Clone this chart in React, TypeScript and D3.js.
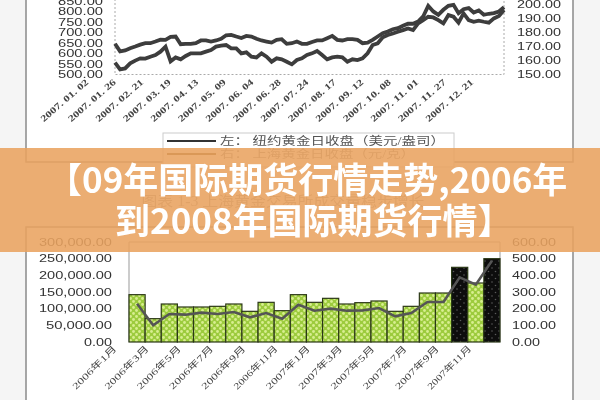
import { useEffect, useRef } from "react";
import * as d3 from "d3";

const nyClose = [
  647, 611, 615, 626, 634, 643, 650, 650, 658, 667, 666, 680, 682, 645, 647, 647, 650, 663, 663, 658, 663, 671, 688, 690, 682, 675,
  685, 682, 671, 663, 658, 653, 666, 669, 647, 650, 658, 647, 647, 656, 663, 663, 674, 685, 666, 663, 669, 669, 666, 650, 653, 666,
  682, 698, 706, 717, 722, 733, 743, 743, 754, 778, 829, 802, 786, 810, 829, 834, 794, 813, 818, 797, 807, 786, 791, 794, 802, 823,
];
const shClose = [
  158.5, 153.7, 154.4, 158, 160, 161.6, 161.4, 162.8, 164, 166.4, 170, 159.5, 162.3, 160.9, 163.3, 165.2, 165.2, 165.2, 166.4, 167.6, 170, 170.7, 171.2, 168.8, 168.8, 165.2,
  165.9, 162.8, 162.3, 165.2, 162.8, 159.2, 161.6, 160.9, 159.2, 157.3, 160.4, 161.6, 164, 165.2, 166.9, 164, 160.9, 162.3, 162.8, 162.3, 159.2, 160.9, 160.4, 161.6, 165.2, 171.2,
  172.4, 176.7, 178.4, 179.5, 180.7, 181.9, 183.1, 181.9, 186.7, 189.1, 191.5, 191, 189.1, 186.7, 192.7, 191.5, 187.2, 193.9, 189.1, 187.9, 188.7, 187.9, 187.2, 190.3, 192, 196.3,
];
const dateLabels = [
  "2007. 01. 02", "2007. 01. 26", "2007. 02. 21", "2007. 03. 19", "2007. 04. 13", "2007. 05. 09", "2007. 06. 04", "2007. 06. 28",
  "2007. 07. 24", "2007. 08. 17", "2007. 09. 12", "2007. 10. 08", "2007. 11. 01", "2007. 11. 27", "2007. 12. 21",
];
const legendLabels = ["左： 纽约黄金日收盘（美元/盎司）", "右： 上海黄金日收盘（元/克）"];

const months = [
  "2006年1月", "2006年2月", "2006年3月", "2006年4月", "2006年5月", "2006年6月", "2006年7月", "2006年8月", "2006年9月", "2006年10月", "2006年11月", "2006年12月",
  "2007年1月", "2007年2月", "2007年3月", "2007年4月", "2007年5月", "2007年6月", "2007年7月", "2007年8月", "2007年9月", "2007年10月", "2007年11月",
];
const volume = [142000, 70000, 114000, 105000, 105000, 107000, 114000, 92000, 119000, 94000, 142000, 119000, 131000, 114000, 118000, 123000, 92000, 107000, 147000, 147000, 224000, 177000, 250000];
const turnover = [230, 100, 168, 164, 176, 168, 180, 148, 174, 140, 224, 188, 200, 188, 190, 204, 154, 174, 240, 240, 388, 344, 488];
const blackBars = ["2007年9月", "2007年11月"];

const titleLines = ["【09年国际期货行情走势,2006年", "到2008年国际期货行情】"];
const caption = "图表 1-3 上海黄金交易所成交量稳步增长";

const SANS = "'Liberation Sans', Arial, sans-serif";
const SERIF = "'Liberation Serif', 'Noto Sans CJK SC', serif";

export default function App() {
  const ref = useRef<SVGSVGElement | null>(null);

  useEffect(() => {
    if (!ref.current) return;
    const svg = d3.select(ref.current);
    svg.selectAll("*").remove();

    const defs = svg.append("defs");
    defs.append("filter").attr("id", "soft").append("feGaussianBlur").attr("stdDeviation", 0.65);
    defs.append("filter").attr("id", "softer").append("feGaussianBlur").attr("stdDeviation", 0.3);

    const green = defs.append("pattern").attr("id", "green-check").attr("patternUnits", "userSpaceOnUse").attr("width", 6).attr("height", 6);
    green.append("rect").attr("width", 6).attr("height", 6).attr("fill", "#9ccb3c");
    green.append("circle").attr("cx", 1.5).attr("cy", 1.5).attr("r", 1.4).attr("fill", "#d8ee90");
    green.append("circle").attr("cx", 4.5).attr("cy", 4.5).attr("r", 1.4).attr("fill", "#d8ee90");

    const dots = defs.append("pattern").attr("id", "black-dots").attr("patternUnits", "userSpaceOnUse").attr("width", 7).attr("height", 7);
    dots.append("rect").attr("width", 7).attr("height", 7).attr("fill", "#0a0a0a");
    dots.append("circle").attr("cx", 2).attr("cy", 2).attr("r", 0.8).attr("fill", "#5a5a5a");
    dots.append("circle").attr("cx", 5.5).attr("cy", 5.5).attr("r", 0.8).attr("fill", "#5a5a5a");

    // page + the two white panels
    svg.append("rect").attr("width", 600).attr("height", 400).attr("fill", "#f5f5f5");
    const chart = svg.append("g").attr("filter", "url(#soft)");
    chart.append("rect").attr("x", 26).attr("y", -10).attr("width", 547).attr("height", 172)
      .attr("fill", "#fff").attr("stroke", "#8a8a8a").attr("stroke-width", 1.5);
    chart.append("rect").attr("x", 26).attr("y", 227).attr("width", 547).attr("height", 190)
      .attr("fill", "#fff").attr("stroke", "#8a8a8a").attr("stroke-width", 1.5);

    // ---------- upper chart ----------
    const x1 = d3.scalePoint<number>().domain(d3.range(nyClose.length)).range([115, 504]);
    const yNy = d3.scaleLinear().domain([500, 900]).range([74.5, -9]);
    const ySh = d3.scaleLinear().domain([150, 210]).range([74.5, -9]);

    chart.append("path")
      .attr("d", "M115,-9V74.5H504V-9")
      .attr("fill", "none").attr("stroke", "#aaa").attr("stroke-width", 1).attr("stroke-dasharray", "2 2");

    const lineNy = d3.line<number>().x((_, i) => x1(i)!).y((d) => yNy(d));
    const lineSh = d3.line<number>().x((_, i) => x1(i)!).y((d) => ySh(d));
    chart.append("path").attr("d", lineNy(nyClose)!).attr("fill", "none").attr("stroke", "#3c3c3c").attr("stroke-width", 3.8);
    chart.append("path").attr("d", lineSh(shClose)!).attr("fill", "none").attr("stroke", "#3c3c3c").attr("stroke-width", 3.8);

    chart.append("g").selectAll("text").data(yNy.ticks(8).filter((d) => d < 900)).join("text")
      .attr("x", 103).attr("y", (d) => yNy(d)).attr("dy", "0.35em").attr("text-anchor", "end")
      .attr("font-family", SANS).attr("font-size", 10).attr("fill", "#333")
      .attr("textLength", 45).attr("lengthAdjust", "spacingAndGlyphs")
      .text((d) => d3.format(".2f")(d));

    chart.append("g").selectAll("text").data(ySh.ticks(6).filter((d) => d < 210)).join("text")
      .attr("x", 517).attr("y", (d) => ySh(d)).attr("dy", "0.35em")
      .attr("font-family", SANS).attr("font-size", 10).attr("fill", "#333")
      .attr("textLength", 44).attr("lengthAdjust", "spacingAndGlyphs")
      .text((d) => d3.format(".2f")(d));

    const xDate = d3.scalePoint<string>().domain(dateLabels).range([89, 474]);
    chart.append("g").selectAll("text").data(dateLabels).join("text")
      .attr("transform", (d) => `translate(${xDate(d)},83) rotate(-41)`)
      .attr("text-anchor", "end")
      .attr("font-family", SERIF).attr("font-size", 9).attr("font-weight", "bold").attr("fill", "#444")
      .attr("textLength", 60).attr("lengthAdjust", "spacingAndGlyphs")
      .text((d) => d);

    chart.append("rect").attr("x", 163).attr("y", 133).attr("width", 291).attr("height", 34)
      .attr("fill", "#fff").attr("stroke", "#ccc");
    const legendY = d3.scalePoint<string>().domain(legendLabels).range([141, 154]);
    const legendWidth = [225, 195];
    legendLabels.forEach((label, i) => {
      const y = legendY(label)!;
      chart.append("line").attr("x1", 167).attr("x2", 216).attr("y1", y).attr("y2", y)
        .attr("stroke", i === 0 ? "#333" : "#6b4a1c").attr("stroke-width", 2);
      chart.append("text").attr("x", 220).attr("y", y + 4).attr("font-family", SERIF).attr("font-size", 11.5)
        .attr("fill", i === 0 ? "#555" : "#888").attr("textLength", legendWidth[i]).attr("lengthAdjust", "spacingAndGlyphs").text(label);
    });

    chart.append("text").attr("x", 283).attr("y", 206).attr("text-anchor", "middle")
      .attr("font-family", SERIF).attr("font-size", 14).attr("fill", "#999")
      .attr("textLength", 283).attr("lengthAdjust", "spacingAndGlyphs").text(caption);

    // ---------- lower chart ----------
    const x2 = d3.scaleBand<string>().domain(months).range([129, 500]).padding(0);
    const yVol = d3.scaleLinear().domain([0, 300000]).range([342, 242]);
    const yTurn = d3.scaleLinear().domain([0, 600]).range([342, 242]);

    chart.append("path").attr("d", "M129,342V242H500V342").attr("fill", "none").attr("stroke", "#999").attr("stroke-width", 1);

    chart.append("g").selectAll("rect").data(months).join("rect")
      .attr("x", (d) => x2(d)!).attr("width", x2.bandwidth())
      .attr("y", (_, i) => yVol(volume[i])).attr("height", (_, i) => 342 - yVol(volume[i]))
      .attr("fill", (d) => (blackBars.includes(d) ? "url(#black-dots)" : "url(#green-check)"))
      .attr("stroke", "#2c3818").attr("stroke-width", 1.2);

    const lineTurn = d3.line<number>().x((_, i) => x2(months[i])! + x2.bandwidth() / 2).y((d) => yTurn(d));
    chart.append("path").attr("d", lineTurn(turnover)!).attr("fill", "none").attr("stroke", "#555").attr("stroke-width", 2.6);

    chart.append("g").selectAll("text").data(yVol.ticks(6)).join("text")
      .attr("x", 112).attr("y", (d) => yVol(d)).attr("dy", "0.35em").attr("text-anchor", "end")
      .attr("font-family", SANS).attr("font-size", 10).attr("fill", "#333")
      .attr("textLength", (d) => (d === 0 ? 28 : d < 100000 ? 66 : 73)).attr("lengthAdjust", "spacingAndGlyphs")
      .text((d) => d3.format(",.2f")(d));

    chart.append("g").selectAll("text").data(yTurn.ticks(6)).join("text")
      .attr("x", 512).attr("y", (d) => yTurn(d)).attr("dy", "0.35em")
      .attr("font-family", SANS).attr("font-size", 10).attr("fill", "#333")
      .attr("textLength", (d) => (d === 0 ? 28 : 44)).attr("lengthAdjust", "spacingAndGlyphs")
      .text((d) => d3.format(".2f")(d));

    chart.append("g").selectAll("text").data(months.filter((_, i) => i % 2 === 0)).join("text")
      .attr("transform", (d) => `translate(${x2(d)! + x2.bandwidth() / 2 - 20},349) rotate(-45)`)
      .attr("text-anchor", "end")
      .attr("font-family", SERIF).attr("font-size", 9).attr("fill", "#444")
      .attr("textLength", (d) => (d.length > 8 ? 62 : 58)).attr("lengthAdjust", "spacingAndGlyphs")
      .text((d) => d);

    // ---------- title banner ----------
    svg.append("rect").attr("x", 0).attr("y", 148).attr("width", 600).attr("height", 104)
      .attr("fill", "#e9a360").attr("fill-opacity", 0.88);
    const banner = svg.append("g").attr("filter", "url(#softer)");
    const titleX = [47, 115];
    const titleY = [193, 234];
    titleLines.forEach((t, i) => {
      banner.append("text").attr("x", titleX[i]).attr("y", titleY[i])
        .attr("font-family", "'Noto Sans CJK SC', sans-serif").attr("font-weight", "bold")
        .attr("font-size", 35).attr("fill", "#fff").text(t);
    });
  }, []);

  return <svg ref={ref} width={600} height={400} style={{ position: "fixed", left: 0, top: 0 }} />;
}
